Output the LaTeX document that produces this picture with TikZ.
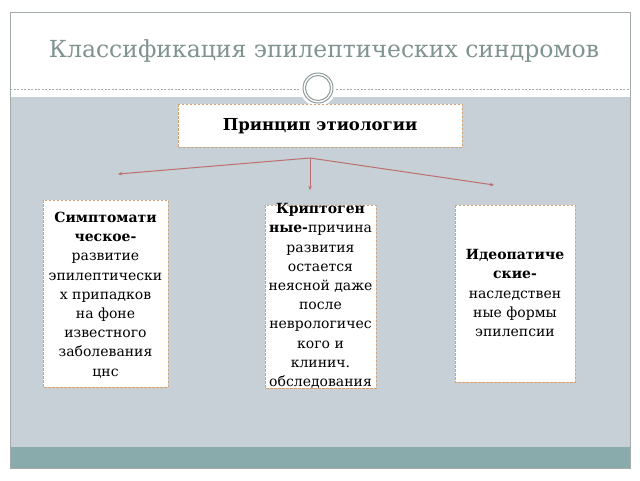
\documentclass[tikz,border=0pt]{standalone}
\usepackage{fontspec}
\setmainfont{DejaVu Serif}
\usetikzlibrary{arrows.meta}
\definecolor{bggrey}{HTML}{C6D0D6}
\definecolor{teal2}{HTML}{8AABAB}
\definecolor{framec}{HTML}{A3ABAB}
\definecolor{titlec}{HTML}{7F9390}
\definecolor{linec}{HTML}{BE6E6E}
\definecolor{boxc}{HTML}{D2A272}
\definecolor{ringc}{HTML}{909C9C}
\tikzset{
  box/.style={draw=boxc, dashed, dash pattern=on 2.5pt off 1.5pt, fill=white, line width=1pt},
  txt/.style={align=center, font=\fontsize{14}{19.2}\selectfont, inner sep=0pt},
  conn/.style={draw=linec, line width=1pt, -{Stealth[length=4pt,width=3.5pt]}}
}
\begin{document}
\begin{tikzpicture}[x=1pt,y=-1pt]
\useasboundingbox (0,0) rectangle (640,480);
\fill[white] (0,0) rectangle (640,480);
% slide areas
\fill[bggrey] (10,97) rectangle (630,447);
\fill[teal2] (10,447) rectangle (630,468);
\draw[framec, line width=0.8pt] (10,12) rectangle (630,468);
\draw[framec, dashed, dash pattern=on 2pt off 1.5pt, line width=0.5pt] (10,89) -- (300,89);
\draw[framec, dashed, dash pattern=on 2pt off 1.5pt, line width=0.5pt] (336,89) -- (630,89);
% ring
\fill[white] (318,88) circle (18);
\draw[ringc, line width=1pt, fill=white] (318,88) circle (15);
\draw[ringc, line width=1pt] (318,88) circle (12.5);
% title
\node[text=titlec, font=\fontsize{23.5}{28}\selectfont, inner sep=0pt] (title) at (324,51) {Классификация эпилептических синдромов};
% top box
\draw[box] (178,104) rectangle (462,147);
\node[txt, font=\fontsize{16.5}{19}\selectfont\bfseries] (top) at (320,126) {Принцип этиологии};
% boxes
\draw[box] (43,200) rectangle (168,387);
\node[txt] (left) at (105.5,295) {\textbf{Симптомати}\\\textbf{ческое-}\\развитие\\эпилептически\\х припадков\\на фоне\\известного\\заболевания\\цнс};
\draw[box] (265,205) rectangle (376,388);
\node[txt] (mid) at (320.5,296) {\textbf{Криптоген}\\\textbf{ные-}причина\\развития\\остается\\неясной даже\\после\\неврологичес\\кого и\\клинич.\\обследования};
\draw[box] (455,205) rectangle (575,382);
\node[txt] (right) at (515,293) {\textbf{Идеопатиче}\\\textbf{ские-}\\наследствен\\ные формы\\эпилепсии};
% connectors
\coordinate (hub) at (310,158);
\coordinate (lend) at (118,174);
\coordinate (mend) at (310,190);
\coordinate (rend) at (494,185);
\draw[conn] (hub) -- (lend);
\draw[conn] (hub) -- (mend);
\draw[conn] (hub) -- (rend);
\end{tikzpicture}
\end{document}
